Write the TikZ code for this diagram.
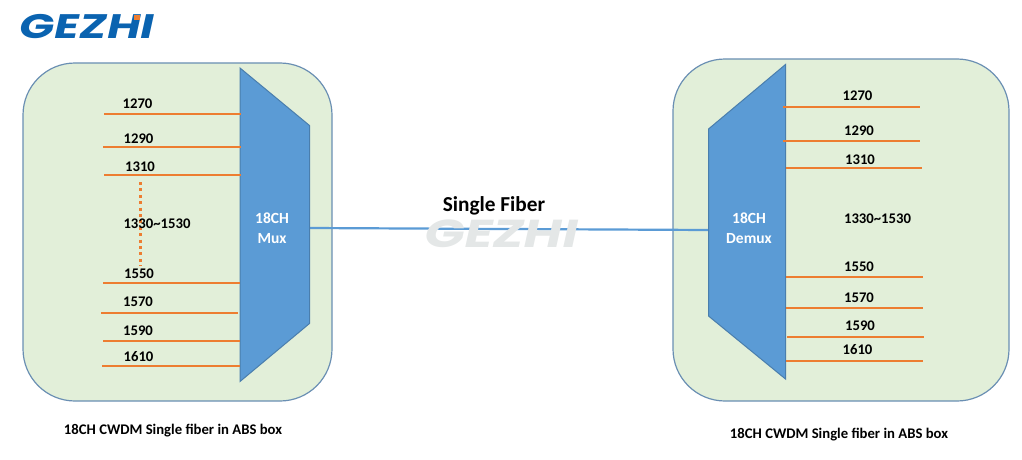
\documentclass[tikz,border=0pt]{standalone}
\usepackage{fontspec}
\setmainfont{Carlito}
\newfontfamily\logofont[FakeSlant=0.22,FakeStretch=1.35]{Poppins}
\definecolor{boxfill}{HTML}{E2EFD9}
\definecolor{boxline}{HTML}{6A8FB3}
\definecolor{muxfill}{HTML}{5B9BD5}
\definecolor{muxline}{HTML}{4A7EAD}
\definecolor{wire}{HTML}{ED7D31}
\definecolor{logoblue}{HTML}{0A63B0}
\definecolor{wmgray}{HTML}{E4E7E7}
\tikzset{
  box/.style={draw=boxline,fill=boxfill,line width=1.2pt,rounded corners=52pt},
  mux/.style={draw=muxline,fill=muxfill,line width=1pt},
  wireline/.style={draw=wire,line width=1.7pt},
  wl/.style={font=\bfseries\fontsize{14.7}{16}\selectfont,inner sep=0pt,text=black},
  captext/.style={font=\bfseries\fontsize{14.7}{16}\selectfont,inner sep=0pt},
  muxtext/.style={font=\bfseries\fontsize{15.5}{20}\selectfont,text=white,align=center,inner sep=0pt},
  fiber/.style={draw=muxfill,line width=2.2pt},
}
\begin{document}
\begin{tikzpicture}[x=1pt,y=-1pt]
\useasboundingbox (0,0) rectangle (1022,460);
% logo
\node[inner sep=0pt,text=logoblue,font=\logofont\bfseries\fontsize{34}{34}\selectfont] (logo) at (85,27) {GEZHI};
\fill[wire] (133.5,15) rectangle (140,20);
% boxes
\draw[box] (23,63) rectangle (332,401);
\draw[box] (673,59) rectangle (1009,401);
% left wires
\coordinate (a1) at (104,114); \coordinate (b1) at (241,114);
\coordinate (a2) at (103,147); \coordinate (b2) at (241,147);
\coordinate (a3) at (104,175); \coordinate (b3) at (241,175);
\coordinate (a4) at (103,283); \coordinate (b4) at (240,283);
\coordinate (a5) at (101,313); \coordinate (b5) at (238,313);
\coordinate (a6) at (103,341); \coordinate (b6) at (240,341);
\coordinate (a7) at (102,366); \coordinate (b7) at (240,366);
\coordinate (d1) at (140.5,182); \coordinate (d2) at (140.5,266);
\draw[draw=wire,line width=2.8pt,dash pattern=on 3pt off 3.4pt] (d1) -- (d2);
% right wires
\coordinate (c1) at (783,107); \coordinate (e1) at (920,107);
\coordinate (c2) at (783,141); \coordinate (e2) at (920,141);
\coordinate (c3) at (785.5,168); \coordinate (e3) at (922,168);
\coordinate (c4) at (786,277); \coordinate (e4) at (923,277);
\coordinate (c5) at (786,308); \coordinate (e5) at (923,308);
\coordinate (c6) at (787,337); \coordinate (e6) at (924,337);
\coordinate (c7) at (786,361); \coordinate (e7) at (923,361);
% fiber
\coordinate (mr) at (309.5,228); \coordinate (dl) at (708.5,230);
\draw[fiber] (mr) -- (dl);
% watermark over the fibre
\node[inner sep=0pt,text=wmgray,font=\logofont\bfseries\fontsize{39}{39}\selectfont] (wm) at (499,234) {GEZHI};
% mux/demux
\draw[mux] (240,68) -- (309.5,125.5) -- (309.5,323.5) -- (240,381.5) -- cycle;
\draw[mux] (785.5,64.5) -- (708.5,129) -- (708.5,316) -- (785.5,379) -- cycle;
\foreach \i in {1,...,7} \draw[wireline] (a\i) -- (b\i);
\foreach \i in {1,...,7} \draw[wireline] (c\i) -- (e\i);
\node[muxtext] (mx) at (272,228) {18CH\\Mux};
\node[muxtext] (dx) at (749,228) {18CH\\Demux};
% labels left
\node[wl] (l1) at (137.5,104) {1270};
\node[wl] (l2) at (138.5,139) {1290};
\node[wl] (l3) at (140,167) {1310};
\node[wl] (l4) at (157,224) {1330\textasciitilde1530};
\node[wl] (l5) at (139,274) {1550};
\node[wl] (l6) at (138,302) {1570};
\node[wl] (l7) at (138,331) {1590};
\node[wl] (l8) at (138.5,357) {1610};
% labels right
\node[wl] (r1) at (857.5,96) {1270};
\node[wl] (r2) at (859,131) {1290};
\node[wl] (r3) at (860,160) {1310};
\node[wl] (r4) at (877.5,219) {1330\textasciitilde1530};
\node[wl] (r5) at (859,267) {1550};
\node[wl] (r6) at (859,298) {1570};
\node[wl] (r7) at (860,326) {1590};
\node[wl] (r8) at (857.5,350) {1610};
% titles
\node[inner sep=0pt,font=\bfseries\fontsize{21.3}{24}\selectfont] (sf) at (494,206) {Single Fiber};
\node[captext] (cl) at (173,431) {18CH CWDM Single fiber in ABS box};
\node[captext] (cr) at (839,434.5) {18CH CWDM Single fiber in ABS box};
\end{tikzpicture}
\end{document}
